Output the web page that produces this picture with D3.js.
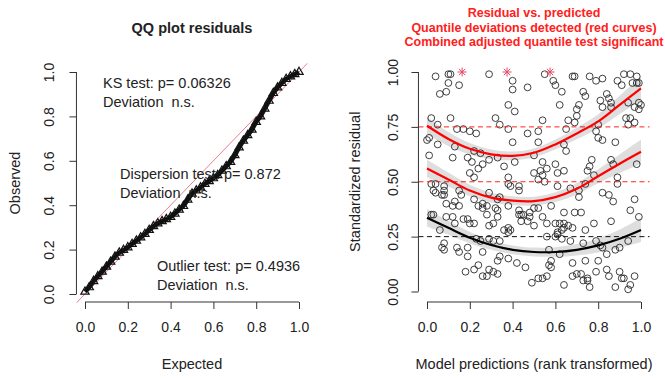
<!DOCTYPE html>
<html>
<head>
<meta charset="utf-8">
<script src="https://cdn.jsdelivr.net/npm/d3@7"></script>
<style>
body{margin:0;background:#fff;}
svg text{font-family:"Liberation Sans",Arial,sans-serif;fill:#222;}
</style>
</head>
<body>
<svg id="chart" width="665" height="378"></svg>
<script>
// ---- data ----
const qqObserved=[0.010,0.030,0.058,0.080,0.100,0.123,0.145,0.168,0.186,0.198,0.210,0.225,0.240,0.255,0.270,
  0.288,0.305,0.318,0.328,0.337,0.347,0.362,0.380,0.396,0.425,0.452,0.466,0.480,0.496,0.508,0.521,0.535,
  0.555,0.575,0.595,0.625,0.660,0.690,0.715,0.740,0.775,0.800,0.835,0.870,0.905,0.930,0.950,0.968,0.980,
  0.990,1.000];
const unitTicks=[0,0.2,0.4,0.6,0.8,1];
const residTicksY=[0,0.25,0.5,0.75,1];
const qqTests=[["KS test: p= 0.06326","Deviation  n.s."],
  ["Dispersion test: p= 0.872","Deviation  n.s."],
  ["Outlier test: p= 0.4936","Deviation  n.s."]];
const residTitle=["Residual vs. predicted","Quantile deviations detected (red curves)","Combined adjusted quantile test significant"];
const outlierX=[0.164,0.374,0.575];

// quantile regression fits (x, fitted value, half width of band)
const fitX=[0,0.1,0.2,0.3,0.4,0.5,0.6,0.7,0.8,0.9,1];
const q25Fit=[0.336,0.290,0.245,0.212,0.190,0.180,0.180,0.190,0.210,0.240,0.280];
const q50Fit=[0.560,0.510,0.460,0.428,0.414,0.412,0.430,0.468,0.525,0.582,0.637];
const q75Fit=[0.755,0.695,0.650,0.625,0.618,0.632,0.670,0.720,0.775,0.850,0.925];
const bandHalf=[0.040,0.032,0.026,0.022,0.020,0.020,0.022,0.026,0.032,0.042,0.055];
const quantiles=[{q:0.25,fit:q25Fit,sig:false},{q:0.5,fit:q50Fit,sig:true},{q:0.75,fit:q75Fit,sig:true}];

// scaled residuals vs rank-transformed predictions
const residPoints=[
 [0.04,0.98],[0.10,0.99],[0.11,0.99],[0.10,0.95],[0.15,0.94],[0.09,0.91],[0.06,0.90],[0.29,0.99],[0.40,0.96],
 [0.47,0.93],[0.40,0.92],[0.38,0.85],[0.41,0.82],[0.02,0.79],[0.11,0.79],[0.32,0.79],[0.05,0.76],[0.14,0.74],
 [0.17,0.74],[0.20,0.73],[0.23,0.72],[0.34,0.76],[0.38,0.74],[0.47,0.72],[0.52,0.73],[0.00,0.69],[0.01,0.70],
 [0.05,0.67],[0.13,0.66],[0.40,0.68],[0.52,0.68],[0.01,0.62],[0.12,0.61],[0.19,0.61],[0.22,0.64],[0.25,0.63],
 [0.29,0.60],[0.33,0.61],[0.41,0.59],[0.50,0.62],[0.21,0.59],[0.26,0.58],[0.36,0.57],[0.24,0.56],[0.20,0.54],
 [0.50,0.54],[0.38,0.52],[0.22,0.52],
 [0.55,0.99],[0.68,0.98],[0.69,0.98],[0.76,0.98],[0.79,0.96],[0.82,0.97],[0.59,0.96],[0.60,0.94],[0.63,0.91],
 [0.89,0.96],[0.92,0.99],[0.95,0.99],[0.98,0.98],[0.96,0.95],[0.98,0.95],[0.99,0.95],[0.91,0.94],[0.73,0.91],
 [0.74,0.89],[0.84,0.90],[0.85,0.88],[0.81,0.87],[0.86,0.86],[0.82,0.84],[0.86,0.84],[0.71,0.85],[0.70,0.83],
 [0.62,0.85],[0.94,0.86],[0.99,0.86],[0.97,0.84],[1.00,0.85],[0.99,0.83],[0.93,0.79],[0.95,0.79],[0.97,0.77],
 [0.94,0.76],[0.54,0.78],[0.66,0.78],[0.69,0.77],[0.80,0.76],[0.65,0.74],[0.79,0.73],[0.80,0.70],[0.82,0.69],
 [0.88,0.68],[0.64,0.67],[0.65,0.64],[0.54,0.59],[0.56,0.56],[0.54,0.53],[0.60,0.58],[0.64,0.55],[0.77,0.60],
 [0.76,0.57],[0.75,0.55],[0.78,0.53],[0.86,0.60],[0.87,0.58],[0.89,0.52],[0.98,0.58],[0.52,0.51],[0.55,0.50],
 [0.53,0.55],[0.61,0.54],[0.74,0.49],[0.43,0.48],[0.43,0.46],[0.70,0.80],
 [0.02,0.49],[0.04,0.49],[0.08,0.48],[0.03,0.46],[0.04,0.45],[0.08,0.46],[0.07,0.44],[0.08,0.44],[0.15,0.46],
 [0.16,0.44],[0.13,0.41],[0.12,0.39],[0.15,0.39],[0.09,0.40],[0.22,0.42],[0.26,0.40],[0.24,0.39],[0.26,0.38],
 [0.28,0.39],[0.29,0.45],[0.33,0.42],[0.34,0.43],[0.38,0.49],[0.39,0.48],[0.32,0.38],[0.33,0.37],[0.38,0.39],
 [0.43,0.37],[0.44,0.35],[0.43,0.35],[0.45,0.35],[0.48,0.36],[0.50,0.38],[0.52,0.38],[0.03,0.35],[0.09,0.34],
 [0.12,0.34],[0.17,0.33],[0.19,0.33],[0.20,0.31],[0.22,0.31],[0.13,0.31],[0.28,0.35],[0.29,0.30],[0.31,0.31],
 [0.33,0.34],[0.36,0.28],[0.38,0.27],[0.38,0.29],[0.39,0.28],[0.44,0.32],[0.47,0.32],[0.48,0.34],[0.50,0.30],
 [0.06,0.28],[0.23,0.24],[0.25,0.23],[0.29,0.24],[0.31,0.23],[0.34,0.23],[0.08,0.22],[0.07,0.20],[0.08,0.19],
 [0.14,0.20],[0.15,0.18],[0.19,0.20],[0.19,0.16],[0.26,0.18],[0.34,0.16],[0.33,0.14],[0.38,0.15],[0.42,0.13],
 [0.46,0.11],[0.18,0.09],[0.22,0.10],[0.29,0.10],[0.31,0.09],[0.28,0.07],[0.33,0.08],[0.49,0.04],[0.52,0.06],
 [0.02,0.35],[0.24,0.12],[0.26,0.07],
 [0.61,0.48],[0.67,0.47],[0.71,0.46],[0.71,0.43],[0.89,0.49],[0.82,0.45],[0.85,0.44],[0.87,0.41],[0.97,0.42],
 [0.58,0.39],[0.64,0.36],[0.69,0.36],[0.72,0.36],[0.95,0.37],[0.99,0.34],[0.54,0.34],[0.56,0.31],[0.60,0.31],
 [0.62,0.31],[0.64,0.31],[0.66,0.30],[0.68,0.29],[0.64,0.29],[0.63,0.28],[0.61,0.27],[0.61,0.26],[0.78,0.31],
 [0.74,0.28],[0.86,0.32],[0.56,0.25],[0.60,0.25],[0.63,0.24],[0.67,0.23],[0.73,0.22],[0.79,0.23],[0.81,0.21],
 [0.82,0.20],[0.88,0.19],[0.90,0.20],[0.94,0.23],[0.57,0.19],[0.62,0.17],[0.58,0.14],[0.57,0.12],[0.58,0.11],
 [0.68,0.13],[0.74,0.14],[0.80,0.14],[0.84,0.17],[0.79,0.09],[0.84,0.10],[0.85,0.07],[0.90,0.09],[0.91,0.06],
 [0.92,0.06],[0.97,0.07],[0.68,0.07],[0.70,0.08],[0.72,0.08],[0.73,0.05],[0.75,0.06],[0.75,0.05],[0.76,0.02],
 [0.56,0.07],[0.54,0.06],[0.64,0.03],[0.88,0.02],[0.95,0.03],[0.94,0.01]
];

let svg=d3.select("#chart");
const axisY=302;

// ---------- left panel: QQ plot ----------
let qx=d3.scaleLinear().domain([0,1]).range([85,299]);
let qy=d3.scaleLinear().domain([0,1]).range([294,72]);

function rAxes(g,x,y,fmtY,yLabOff){
  let xa=g.append("g").attr("transform","translate(0,"+axisY+")")
    .call(d3.axisBottom(x).tickValues(unitTicks).tickSize(7).tickFormat(d3.format(".1f")));
  xa.attr("font-size",14).attr("color","#333");
  xa.select(".domain").attr("d","M"+x(0)+",0H"+x(1));
  xa.selectAll(".tick text").attr("y",30).attr("dy",0);

  let ya=g.append("g").attr("transform","translate("+x(-0.04)+",0)")
    .call(d3.axisLeft(y).tickValues(fmtY===".1f"?unitTicks:residTicksY).tickSize(7).tickFormat(d3.format(fmtY)));
  ya.attr("font-size",14).attr("color","#333");
  ya.select(".domain").attr("d","M0,"+y(0)+"V"+y(1));
  ya.selectAll(".tick text").attr("transform","rotate(-90)")
    .attr("x",0).attr("y",-yLabOff).attr("dy",0).attr("text-anchor","middle");
}

let left=svg.append("g");
left.append("clipPath").attr("id","qqclip").append("rect")
  .attr("x",qx(-0.04)).attr("y",qy(1.04))
  .attr("width",qx(1.04)-qx(-0.04)).attr("height",qy(-0.04)-qy(1.04));

left.append("line")
  .attr("clip-path","url(#qqclip)")
  .attr("x1",qx(-0.06)).attr("y1",qy(-0.06)).attr("x2",qx(1.06)).attr("y2",qy(1.06))
  .attr("stroke","#e8808c").attr("stroke-width",1);

let qqData=qqObserved.map((d,i)=>({e:i/(qqObserved.length-1),o:d}));
left.append("path")
  .datum(qqData)
  .attr("fill","none").attr("stroke","#111").attr("stroke-width",4.5)
  .attr("d",d3.line().x(d=>qx(d.e)).y(d=>qy(d.o)));
left.append("g").selectAll("path")
  .data(qqData)
  .enter().append("path")
  .attr("d",d3.symbol(d3.symbolTriangle,30))
  .attr("transform",d=>"translate("+qx(d.e)+","+qy(d.o)+")")
  .attr("fill","none").attr("stroke","#111").attr("stroke-width",1.2);

rAxes(left,qx,qy,".1f",22);

left.append("text").text("QQ plot residuals")
  .attr("x",qx(0.5)).attr("y",33).attr("text-anchor","middle")
  .attr("font-weight","bold").attr("font-size",14.5);
left.append("text").text("Expected")
  .attr("x",qx(0.5)).attr("y",369).attr("text-anchor","middle").attr("font-size",14.5);
left.append("text").text("Observed")
  .attr("transform","translate(20,"+qy(0.5)+") rotate(-90)")
  .attr("text-anchor","middle").attr("font-size",14.5);

let testPos=[[103,88],[120,179],[157,271]];
qqTests.forEach(function(t,i){
  t.forEach(function(s,j){
    left.append("text").text(s)
      .attr("x",testPos[i][0]).attr("y",testPos[i][1]+j*19)
      .attr("font-size",14.5).attr("xml:space","preserve").style("white-space","pre");
  });
});

// ---------- right panel: residual vs predicted ----------
let rx=d3.scaleLinear().domain([0,1]).range([427,641]);
let ry=d3.scaleLinear().domain([0,1]).range([291.5,72]);

let right=svg.append("g");

right.append("g").selectAll("circle")
  .data(residPoints)
  .enter().append("circle")
  .attr("cx",d=>rx(d[0])).attr("cy",d=>ry(d[1])).attr("r",3.4)
  .attr("fill","none").attr("stroke","#2a2a2a").attr("stroke-width",0.9);

let starG=right.append("g");
outlierX.forEach(function(x){
  let cx=rx(x),cy=ry(1),s=4.5,d=3.2;
  starG.append("path")
    .attr("d","M"+(cx-s)+","+cy+"H"+(cx+s)+"M"+cx+","+(cy-s)+"V"+(cy+s)+
      "M"+(cx-d)+","+(cy-d)+"L"+(cx+d)+","+(cy+d)+"M"+(cx-d)+","+(cy+d)+"L"+(cx+d)+","+(cy-d))
    .attr("stroke","#e34a64").attr("stroke-width",1);
});

quantiles.forEach(function(q){
  right.append("line")
    .attr("x1",rx(-0.04)).attr("x2",rx(1.04)).attr("y1",ry(q.q)).attr("y2",ry(q.q))
    .attr("stroke",q.sig?"#ff2020":"#111").attr("stroke-width",1).attr("stroke-dasharray","5,3.5");
});

let bandArea=d3.area().curve(d3.curveCatmullRom)
  .x(d=>rx(d.x)).y0(d=>ry(d.y-d.h)).y1(d=>ry(d.y+d.h));
let fitLine=d3.line().curve(d3.curveCatmullRom).x(d=>rx(d.x)).y(d=>ry(d.y));

quantiles.forEach(function(q){
  let pts=fitX.map((x,i)=>({x:x,y:q.fit[i],h:bandHalf[i]}));
  right.append("path").datum(pts)
    .attr("d",bandArea).attr("fill","#000").attr("fill-opacity",0.13);
  right.append("path").datum(pts)
    .attr("d",fitLine).attr("fill","none")
    .attr("stroke",q.sig?"#ff0000":"#000").attr("stroke-width",2.2);
});

rAxes(right,rx,ry,".2f",20.5);

residTitle.forEach(function(s,i){
  right.append("text").text(s)
    .attr("x",rx(0.5)).attr("y",17+i*14.5).attr("text-anchor","middle")
    .attr("font-weight","bold").attr("font-size",12.5).style("fill","#ff2020");
});
right.append("text").text("Model predictions (rank transformed)")
  .attr("x",rx(0.5)).attr("y",369).attr("text-anchor","middle").attr("font-size",14.5);
right.append("text").text("Standardized residual")
  .attr("transform","translate(360,"+ry(0.5)+") rotate(-90)")
  .attr("text-anchor","middle").attr("font-size",14.5);
</script>
</body>
</html>
